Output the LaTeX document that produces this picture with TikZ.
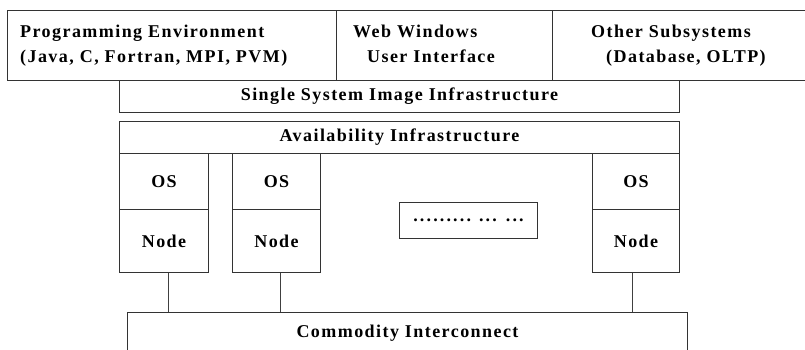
\documentclass[tikz,border=0pt]{standalone}
\usepackage{fontspec}
\setmainfont{Liberation Serif}[LetterSpace=8]
\begin{document}
\begin{tikzpicture}[x=1pt,y=-1pt,
  box/.style={draw=black!80, line width=1pt, inner sep=0pt, anchor=north west},
  txt/.style={font=\bfseries\fontsize{18}{25}\selectfont, inner sep=0pt},
  link/.style={draw=black!75, line width=1pt}]
\clip (0,0) rectangle (805,350);
\fill[white] (0,0) rectangle (805,350);

% top layer: programming environment, web UI, other subsystems
\node[box, minimum width=329pt, minimum height=70pt] (prog)  at (7,10)   {};
\node[box, minimum width=216pt, minimum height=70pt] (web)   at (336,10) {};
\node[box, minimum width=280pt, minimum height=70pt] (other) at (552,10) {};
% (base anchor of a two-line node sits on its last line)
\node[txt, anchor=base west, align=left] (progtxt) at (20,63)
  {Programming Environment\\(Java, C, Fortran, MPI, PVM)};
\node[txt, anchor=base west, align=left] (webtxt) at (353,63)
  {Web Windows\\\hspace*{14pt}User Interface};
\node[txt, anchor=base west, align=left] (othertxt) at (591,63)
  {Other Subsystems\\\hspace*{15pt}(Database, OLTP)};

% middleware layers
\node[box, minimum width=560pt, minimum height=32pt, txt] (ssi)   at (119,80)
  {Single System Image Infrastructure};
\node[box, minimum width=560pt, minimum height=32pt, txt] (avail) at (119,121)
  {Availability Infrastructure};

% computing nodes
\node[box, minimum width=89pt, minimum height=56pt, txt] (os1)   at (119,153) {OS};
\node[box, minimum width=89pt, minimum height=63pt, txt] (node1) at (119,209) {Node};
\node[box, minimum width=88pt, minimum height=56pt, txt] (os2)   at (232,153) {OS};
\node[box, minimum width=88pt, minimum height=63pt, txt] (node2) at (232,209) {Node};
\node[box, minimum width=87pt, minimum height=56pt, txt] (os3)   at (592,153) {OS};
\node[box, minimum width=87pt, minimum height=63pt, txt] (node3) at (592,209) {Node};

\node[box, minimum width=138pt, minimum height=36pt, txt] (dots) at (399,202)
  {\addfontfeatures{LetterSpace=12}.........\kern8pt...\kern9pt...};

% interconnect
\node[box, minimum width=560pt, minimum height=42pt, txt] (comm) at (127,312)
  {Commodity Interconnect};

\draw[link] ([xshift=4.5pt]node1.south) -- ([xshift=4.5pt]node1.south |- comm.north);
\draw[link] ([xshift=4pt]node2.south)   -- ([xshift=4pt]node2.south |- comm.north);
\draw[link] ([xshift=-3.5pt]node3.south) -- ([xshift=-3.5pt]node3.south |- comm.north);
\end{tikzpicture}
\end{document}
